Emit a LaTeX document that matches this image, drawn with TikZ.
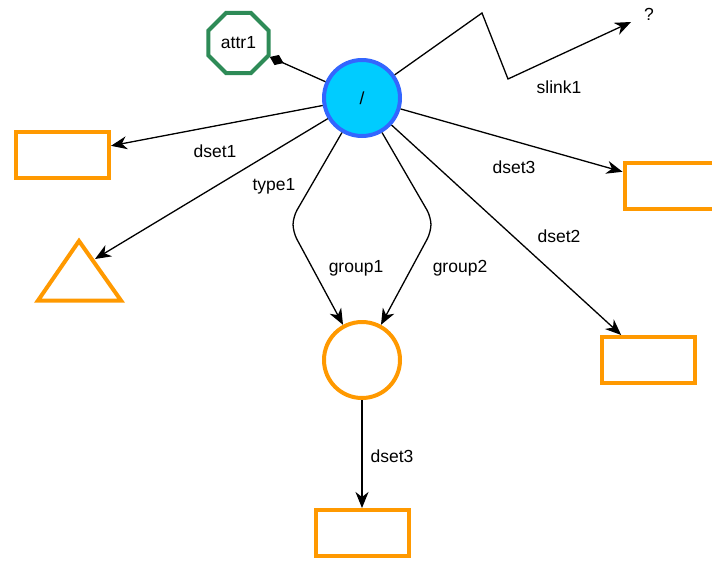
\documentclass[tikz,border=0pt]{standalone}
\usepackage{fontspec}
\setmainfont{Liberation Sans}
\usetikzlibrary{arrows.meta,shapes.geometric}
\definecolor{objorange}{RGB}{255,153,0}
\definecolor{rootfill}{RGB}{0,204,255}
\definecolor{rootline}{RGB}{51,102,255}
\definecolor{attrgreen}{RGB}{46,139,87}
\begin{document}
\begin{tikzpicture}[x=1pt,y=-1pt,
  every node/.style={font=\fontsize{17.5}{20}\selectfont},
  obj/.style={draw=objorange,line width=4pt,fill=white,inner sep=0pt},
  dsetbox/.style={obj,rectangle,minimum width=93pt,minimum height=46pt},
  groupnode/.style={obj,circle,minimum size=76pt},
  link/.style={black,line width=1.3pt,-{Stealth[length=16pt,width=13pt,inset=5pt]}}]
  \useasboundingbox (0,0) rectangle (712,560);
  % objects
  \node[circle,draw=rootline,fill=rootfill,line width=4pt,minimum size=76pt] (root) at (362,98) {/};
  \node[regular polygon,regular polygon sides=8,draw=attrgreen,line width=4pt,minimum size=65pt,inner sep=0pt] (attr1) at (238.5,43) {attr1};
  \node[dsetbox] (dset1) at (62.5,155) {};
  \node[dsetbox] (dset3) at (671,185.5) {};
  \node[dsetbox] (dset2) at (648.5,360) {};
  \node[groupnode] (group) at (362,360) {};
  \node[dsetbox] (dset3b) at (362,533) {};
  \draw[objorange,line width=4pt,line join=miter] (79,241) -- (121,300.5) -- (38,300.5) -- cycle;
  \coordinate (type) at (95,259);
  \node (unknown) at (649,14) {?};
  % bends
  \coordinate (g1a) at (293,217);
  \coordinate (g1b) at (293,232);
  \coordinate (g2a) at (431,217);
  \coordinate (g2b) at (431,232);
  \coordinate (s1) at (482,13);
  \coordinate (s2) at (508,79);
  \coordinate (slinkend) at (631,22);
  % links
  \draw[line width=1.3pt,-{Diamond[length=15pt,width=11pt]}] (root) -- (attr1);
  \draw[link] (root) -- (dset1);
  \draw[link] (root) -- (type);
  \draw[link] (root) -- (dset3);
  \draw[link] (root) -- (dset2);
  \draw[link,rounded corners=8pt] (root) -- (g1a) -- (g1b) -- (group);
  \draw[link,rounded corners=8pt] (root) -- (g2a) -- (g2b) -- (group);
  \draw[link] (root) -- (s1) -- (s2) -- (slinkend);
  \draw[link] (group) -- (dset3b);
  % labels
  \node (lbldset1) at (215,151) {dset1};
  \node (lbltype1) at (274,186) {type1};
  \node (lblgroup1) at (356,268) {group1};
  \node (lblgroup2) at (460,268) {group2};
  \node (lbldset3) at (514,167) {dset3};
  \node (lbldset2) at (559,236) {dset2};
  \node (lblslink1) at (559,87) {slink1};
  \node (lbldset3b) at (392,456) {dset3};
\end{tikzpicture}
\end{document}
